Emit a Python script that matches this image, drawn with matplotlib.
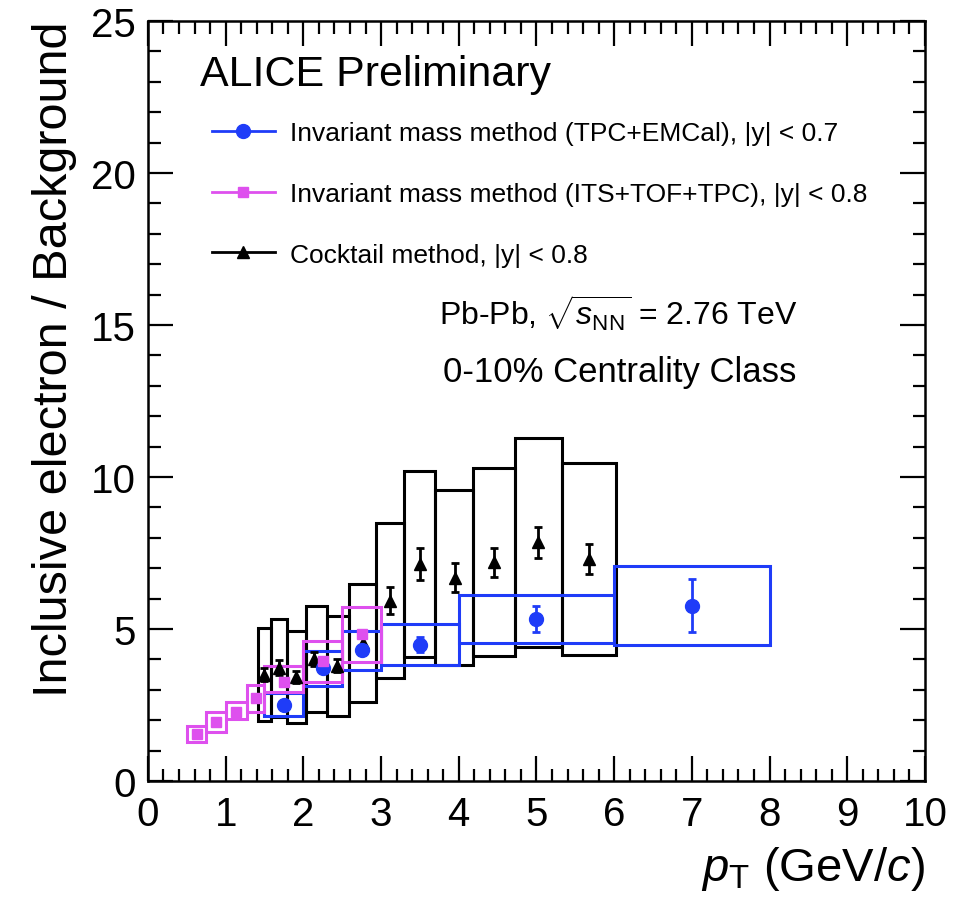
import matplotlib
matplotlib.use('Agg')
import matplotlib.pyplot as plt
from matplotlib.lines import Line2D
from matplotlib.ticker import MultipleLocator

plt.rcParams['font.family'] = ['Liberation Sans', 'DejaVu Sans']
plt.rcParams['mathtext.fontset'] = 'custom'
plt.rcParams['mathtext.rm'] = 'Liberation Sans'
plt.rcParams['mathtext.it'] = 'Liberation Sans:italic'
plt.rcParams['mathtext.bf'] = 'Liberation Sans:bold'

# ---- Data ----
# Invariant mass method (TPC+EMCal)
emc_pt = [1.75, 2.25, 2.75, 3.5, 5.0, 7.0]
emc_lo = [1.5, 2.0, 2.5, 3.0, 4.0, 6.0]
emc_hi = [2.0, 2.5, 3.0, 4.0, 6.0, 8.0]
emc_val = [2.51, 3.70, 4.30, 4.48, 5.33, 5.77]
emc_stat = [0.10, 0.12, 0.15, 0.25, 0.43, 0.87]
emc_sys = [0.38, 0.57, 0.64, 0.67, 0.80, 1.31]

# Invariant mass method (ITS+TOF+TPC)
tof_pt = [0.625, 0.875, 1.135, 1.385, 1.75, 2.25, 2.75]
tof_lo = [0.5, 0.75, 1.0, 1.27, 1.5, 2.0, 2.5]
tof_hi = [0.75, 1.0, 1.27, 1.5, 2.0, 2.5, 3.0]
tof_val = [1.55, 1.93, 2.28, 2.72, 3.25, 3.96, 4.84]
tof_stat = [0.05, 0.05, 0.05, 0.05, 0.06, 0.08, 0.10]
tof_sys_dn = [0.28, 0.33, 0.24, 0.45, 0.31, 0.71, 0.93]
tof_sys_up = [0.27, 0.33, 0.32, 0.44, 0.54, 0.65, 0.88]

# Cocktail method
ck_pt = [1.50, 1.69, 1.91, 2.14, 2.43, 2.77, 3.11, 3.50, 3.95, 4.46, 5.02, 5.67]
ck_lo = [1.41, 1.59, 1.79, 2.03, 2.30, 2.59, 2.94, 3.29, 3.70, 4.18, 4.72, 5.33]
ck_hi = [1.59, 1.79, 2.03, 2.30, 2.59, 2.94, 3.29, 3.70, 4.18, 4.72, 5.33, 6.02]
ck_val = [3.50, 3.72, 3.42, 4.01, 3.79, 4.54, 5.93, 7.14, 6.69, 7.19, 7.85, 7.30]
ck_stat = [0.20, 0.25, 0.20, 0.22, 0.22, 0.30, 0.45, 0.52, 0.47, 0.47, 0.52, 0.50]
ck_sys = [1.52, 1.62, 1.50, 1.75, 1.64, 1.94, 2.54, 3.07, 2.87, 3.09, 3.43, 3.15]

x_ticks = [0, 1, 2, 3, 4, 5, 6, 7, 8, 9, 10]
y_ticks = [0, 5, 10, 15, 20, 25]

BLUE = '#1f3cf8'
MAG = '#de50ee'
BLACK = 'black'

fig = plt.figure(figsize=(9.67, 9.04), dpi=100)
ax = fig.add_axes([0.153, 0.135, 0.8035, 0.8407])

# systematic boxes
lw_box = 2.2
ax.bar(ck_lo, [2 * s for s in ck_sys], bottom=[v - s for v, s in zip(ck_val, ck_sys)],
       width=[h - l for h, l in zip(ck_hi, ck_lo)], align='edge', fill=False,
       edgecolor=BLACK, linewidth=lw_box, zorder=2)
ax.bar(emc_lo, [2 * s for s in emc_sys], bottom=[v - s for v, s in zip(emc_val, emc_sys)],
       width=[h - l for h, l in zip(emc_hi, emc_lo)], align='edge', fill=False,
       edgecolor=BLUE, linewidth=lw_box, zorder=3)
ax.bar(tof_lo, [d + u for d, u in zip(tof_sys_dn, tof_sys_up)],
       bottom=[v - d for v, d in zip(tof_val, tof_sys_dn)],
       width=[h - l for h, l in zip(tof_hi, tof_lo)], align='edge', fill=False,
       edgecolor=MAG, linewidth=lw_box, zorder=3)

# points with stat errors
ax.errorbar(ck_pt, ck_val, yerr=ck_stat, fmt='^', color=BLACK, ms=9, capsize=3,
            elinewidth=2, capthick=2, zorder=4)
ax.errorbar(emc_pt, emc_val, yerr=emc_stat, fmt='o', color=BLUE, ms=10, capsize=3,
            elinewidth=2, capthick=2, zorder=5)
ax.errorbar(tof_pt, tof_val, yerr=tof_stat, fmt='s', color=MAG, ms=7.5, capsize=3,
            elinewidth=2, capthick=2, zorder=6)

ax.set_xlim(0, 10)
ax.set_ylim(0, 25)
ax.set_xticks(x_ticks)
ax.set_yticks(y_ticks)
ax.xaxis.set_minor_locator(MultipleLocator(0.2))
ax.yaxis.set_minor_locator(MultipleLocator(1))
ax.tick_params(which='both', direction='in', top=True, right=True, width=1.6,
               labelsize=29)
ax.tick_params(which='major', length=18)
ax.tick_params(which='minor', length=9)
ax.tick_params(axis='x', pad=10)
ax.tick_params(axis='y', pad=9)
for sp in ax.spines.values():
    sp.set_linewidth(1.8)

ax.set_xlabel(r'$p_{\rm T}$ (GeV/$c$)', fontsize=34, loc='right', labelpad=8)
ax.set_ylabel('Inclusive electron / Background', fontsize=35, loc='top', labelpad=10)

handles = [
    Line2D([], [], color=BLUE, marker='o', ms=10, lw=2),
    Line2D([], [], color=MAG, marker='s', ms=7.5, lw=2),
    Line2D([], [], color=BLACK, marker='^', ms=9, lw=2),
]
labels = [
    'Invariant mass method (TPC+EMCal), |y| < 0.7',
    'Invariant mass method (ITS+TOF+TPC), |y| < 0.8',
    'Cocktail method, |y| < 0.8',
]
ax.legend(handles, labels, loc='upper left', bbox_to_anchor=(0.082, 0.868),
          frameon=False, fontsize=19, handlelength=2.39, handletextpad=0.57,
          labelspacing=1.39, borderpad=0, borderaxespad=0)

ax.text(0.067, 0.930, 'ALICE Preliminary', transform=ax.transAxes, fontsize=31,
        ha='left', va='center')
ax.text(0.605, 0.617, r'Pb-Pb, $\sqrt{s_{\rm NN}}$ = 2.76 TeV', transform=ax.transAxes,
        fontsize=23, ha='center', va='center')
ax.text(0.607, 0.539, '0-10% Centrality Class', transform=ax.transAxes,
        fontsize=25, ha='center', va='center')

fig.savefig('out.png', dpi=100)
